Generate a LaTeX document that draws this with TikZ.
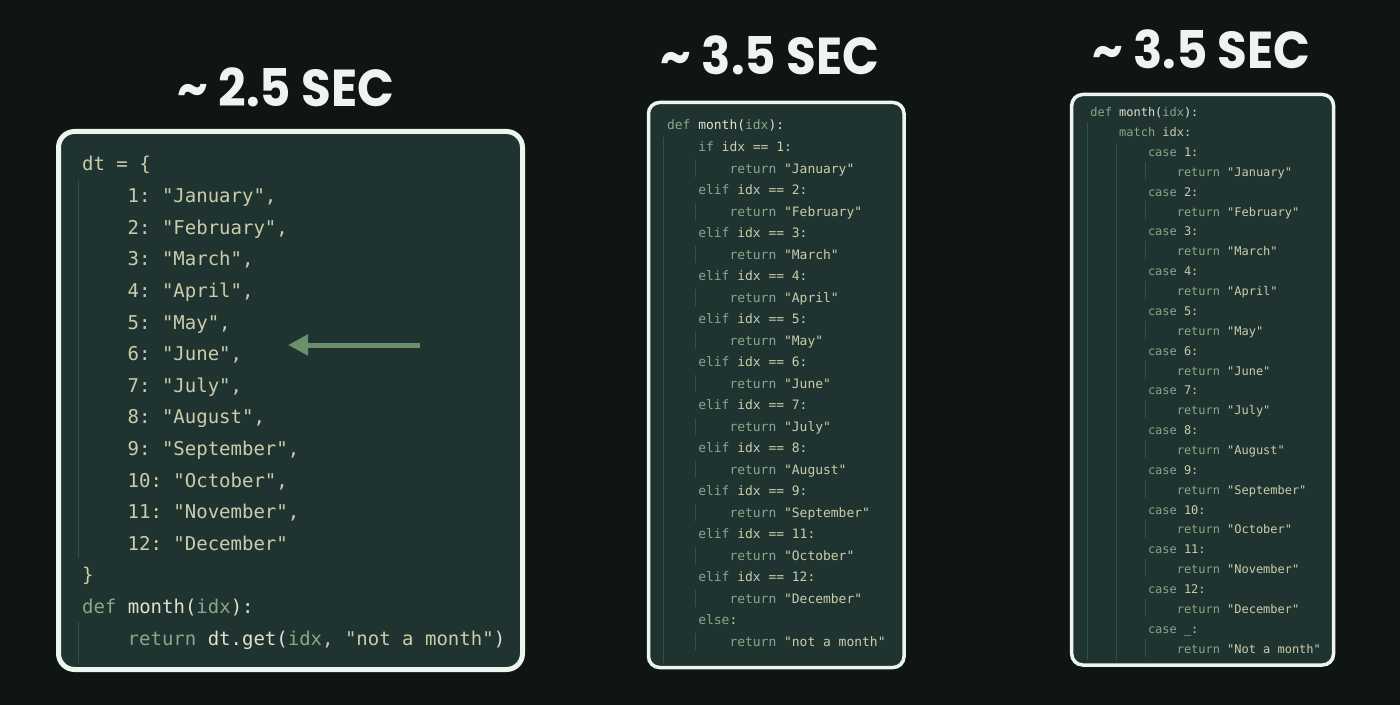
\documentclass[tikz,border=0pt]{standalone}
\usepackage{fontspec}
\setmonofont{DejaVu Sans Mono}
\newfontfamily\titlefont{Poppins}
\usetikzlibrary{arrows.meta}
\definecolor{bg}{HTML}{0E1513}
\definecolor{panel}{HTML}{1F3430}
\definecolor{strc}{HTML}{CBCCAA}
\definecolor{kwc}{HTML}{8DA48A}
\definecolor{idc}{HTML}{E0E1CF}
\definecolor{guide}{HTML}{34504A}
\definecolor{arrowc}{HTML}{6A8F6A}
\definecolor{rim}{HTML}{EEF4EF}
\tikzset{
  panelbox/.style={fill=panel, draw=rim},
  titletxt/.style={anchor=base, inner sep=0pt, text=rim, font=\titlefont\bfseries\fontsize{26}{30}\selectfont},
  cone/.style={anchor=base west, inner sep=0pt, text=strc, font=\fontsize{9.5}{11}\selectfont\ttfamily},
  ctwo/.style={anchor=base west, inner sep=0pt, text=strc, font=\fontsize{6.48}{8}\selectfont\ttfamily},
  cthree/.style={anchor=base west, inner sep=0pt, text=strc, font=\fontsize{5.98}{7}\selectfont\ttfamily},
  guideline/.style={draw=guide, line width=0.5pt},
}
\newcommand\kw[1]{\textcolor{kwc}{#1}}
\newcommand\idt[1]{\textcolor{idc}{#1}}
\newcommand\ttl[1]{\scalebox{0.93}[1]{#1}}
\begin{document}
\begin{tikzpicture}[x=0.5pt,y=-0.5pt]
\useasboundingbox (0,0) rectangle (1400,705);
\fill[bg] (0,0) rectangle (1400,705);

% titles
\node[titletxt] (t1) at (286,106.7) {\ttl{\textasciitilde{} 2.5 SEC}};
\node[titletxt] (t2) at (770,75) {\ttl{\textasciitilde{} 3.5 SEC}};
\node[titletxt] (t3) at (1201.5,68.3) {\ttl{\textasciitilde{} 3.5 SEC}};

% panels
\draw[panelbox, line width=2.5pt, rounded corners=8pt] (58.5,131.5) rectangle (522.5,669.5);
\draw[panelbox, line width=1.75pt, rounded corners=5.5pt] (648.5,102.5) rectangle (904,667.5);
\draw[panelbox, line width=1.75pt, rounded corners=5.5pt] (1071.7,94.5) rectangle (1333.5,665);

% ---------- panel 1 ----------
\draw[guideline] (78,180) -- (78,558);
\draw[guideline] (78,622) -- (78,663);
\node[cone] (a0) at (81.7,171) {dt = \{};
\foreach \m [count=\i] in {January,February,March,April,May,June,July,August,September,October,November,December}{
  \ifnum\i<12
    \node[cone] (a\i) at (127.3,{171+31.6*\i}) {\i: "\m",};
  \else
    \node[cone] (a\i) at (127.3,{171+31.6*\i}) {\i: "\m"};
  \fi
}
\node[cone] (a13) at (81.7,{171+31.6*13}) {\}};
\node[cone] (a14) at (81.7,{171+31.6*14}) {\kw{def} \idt{month(}\kw{idx}\idt{):}};
\node[cone] (a15) at (127.3,{171+31.6*15}) {\kw{return} \idt{dt.get(}\kw{idx}, "not a month"\idt{)}};
\coordinate (as) at (420,345);
\coordinate (ae) at (288,345);
\draw[arrowc, line width=2.5pt, -{Triangle[length=10pt,width=10pt]}] (as) -- (ae);

% ---------- panel 2 ----------
\draw[guideline] (663.3,137) -- (663.3,663);
\node[ctwo] (b0) at (666.7,130) {\kw{def} \idt{month(}\kw{idx}\idt{):}};
\foreach \n/\m [count=\i] in {1/January,2/February,3/March,4/April,5/May,6/June,7/July,8/August,9/September,11/October,12/December}{
  \node[ctwo] (bc\i) at (697.9,{130+21.52*(2*\i-1)}) {\kw{\ifnum\i=1 if\else elif\fi} idx == \n:};
  \node[ctwo] (br\i) at (729.1,{130+21.52*(2*\i)}) {\kw{return} "\m"};
  \draw[guideline] (695,{130+21.52*(2*\i)-13.5}) -- (695,{130+21.52*(2*\i)+3.5});
}
\node[ctwo] (be) at (697.9,{130+21.52*23}) {\kw{else}:};
\node[ctwo] (bn) at (729.1,{130+21.52*24}) {\kw{return} "not a month"};
\draw[guideline] (695,{130+21.52*24-13.5}) -- (695,{130+21.52*24+3.5});

% ---------- panel 3 ----------
\draw[guideline] (1087.7,122) -- (1087.7,660);
\draw[guideline] (1116.7,143) -- (1116.7,660);
\node[cthree] (c0) at (1090,116.7) {\kw{def} \idt{month(}\kw{idx}\idt{):}};
\node[cthree] (c1) at (1118.8,{116.7+19.87}) {\kw{match} idx:};
\foreach \m [count=\i] in {January,February,March,April,May,June,July,August,September,October,November,December}{
  \node[cthree] (cc\i) at (1147.6,{116.7+19.87*(2*\i)}) {\kw{case} \i:};
  \node[cthree] (cr\i) at (1176.4,{116.7+19.87*(2*\i+1)}) {\kw{return} "\m"};
  \draw[guideline] (1145,{116.7+19.87*(2*\i+1)-14.6}) -- (1145,{116.7+19.87*(2*\i+1)+3.7});
}
\node[cthree] (cd) at (1147.6,{116.7+19.87*26}) {\kw{case} \_:};
\node[cthree] (cn) at (1176.4,{116.7+19.87*27}) {\kw{return} "Not a month"};
\draw[guideline] (1145,{116.7+19.87*27-14.6}) -- (1145,{116.7+19.87*27+3.7});
\end{tikzpicture}
\end{document}
